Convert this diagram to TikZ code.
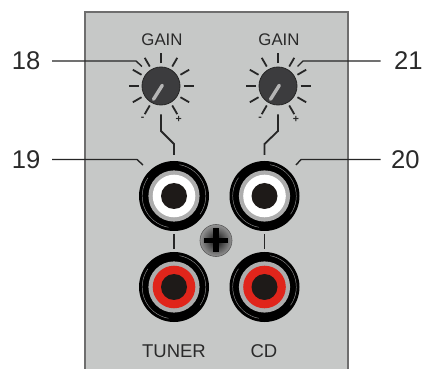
\documentclass[tikz,border=0pt]{standalone}
\usepackage{fontspec}
\setmainfont{Liberation Sans}
\usetikzlibrary{calc}
\definecolor{panel}{HTML}{C6C8C7}
\definecolor{edge}{HTML}{6E6E6E}
\definecolor{ink}{HTML}{262626}
\definecolor{txt}{HTML}{2A2A2A}
\definecolor{knobfill}{HTML}{3C3C3E}
\definecolor{ringgrey}{HTML}{ADADAD}
\definecolor{jackred}{HTML}{E0251B}
\definecolor{hole}{HTML}{1E1A18}
\tikzset{
  leader/.style={draw=ink,line width=1.4pt,line join=miter},
  stem/.style={draw=ink,line width=1.8pt,line join=miter},
  tick/.style={draw=ink,line width=1.8pt},
  pointer/.style={draw=ringgrey!90!white,line width=3.4pt,line cap=round},
  numlabel/.style={inner sep=0pt,text=txt,font=\fontsize{25.6}{26}\selectfont},
  caption/.style={inner sep=0pt,text=txt,font=\fontsize{18.5}{20}\selectfont},
  gainlabel/.style={inner sep=0pt,text=txt,font=\fontsize{16.8}{18}\selectfont},
  sign/.style={inner sep=0pt,text=txt,font=\bfseries\fontsize{10.5}{10}\selectfont},
  knob/.style={circle,inner sep=0pt,minimum size=38pt,fill=knobfill,draw=black!85,line width=.8pt},
  jack/.style={circle,inner sep=0pt,minimum size=70pt,fill=black},
  glint/.style={draw=black!45,line width=.45pt}
}
\newcommand{\jackrings}[2]{%
  \draw[glint] (#1)+(100:31.8) arc[start angle=100,end angle=215,radius=31.8];
  \draw[glint] (#1)+(-80:31.8) arc[start angle=-80,end angle=35,radius=31.8];
  \fill[ringgrey] (#1) circle (25.6pt);
  \fill[#2] (#1) circle (21.3pt);
  \fill[hole] (#1) circle (13pt);
}
\newcommand{\knobticks}[1]{%
  \foreach \a in {-60,-30,0,30,60,90,120,150,180,210,240}
    \draw[tick] ($(#1)+(\a:22.5 and -22.5)$) -- ($(#1)+(\a:32.5 and -32.5)$);
}
\begin{document}
\begin{tikzpicture}[x=1pt,y=-1pt]
\useasboundingbox (0,0) rectangle (424,369);
\fill[white] (0,0) rectangle (424,369);
% panel
\fill[panel] (85,12) rectangle (348,369);
\draw[edge,line width=1.6pt] (85,369) -- (85,12) -- (348,12) -- (348,369);
% knobs
\node[knob] (knobL) at (161,86) {};
\node[knob] (knobR) at (278,86) {};
\knobticks{knobL}
\knobticks{knobR}
\draw[pointer] (162.3,85.3) -- (153.5,99.3);
\draw[pointer] (279.3,85.3) -- (270.5,99.3);
% labels
\node[gainlabel] (gainL) at (162,40) {GAIN};
\node[gainlabel] (gainR) at (279,40) {GAIN};
\node[sign] (minusL) at (142.7,118.5) {-};
\node[sign] (plusL) at (178.7,119) {+};
\node[sign] (minusR) at (260,118.5) {-};
\node[sign] (plusR) at (296,119) {+};
% jacks
\node[jack] (jackTL) at (174,196) {};
\node[jack] (jackTR) at (264.5,196) {};
\node[jack] (jackBL) at (174,287) {};
\node[jack] (jackBR) at (264.5,287) {};
\jackrings{jackTL}{white}
\jackrings{jackTR}{white}
\jackrings{jackBL}{jackred}
\jackrings{jackBR}{jackred}
% screw
\shade[inner color=black!95,outer color=black!42] (216,240.5) circle (16);
\node[circle,inner sep=0pt,minimum size=32pt,draw=black!65,line width=.6pt] (screw) at (216,240.5) {};
\draw[black,line width=5.8pt] (204,240.5) -- (228,240.5) (216,228.5) -- (216,252.5);
% numbers
\node[numlabel,anchor=east] (n18) at (40.5,61) {18};
\node[numlabel,anchor=east] (n19) at (40.5,159.5) {19};
\node[numlabel,anchor=west] (n21) at (394,61) {21};
\node[numlabel,anchor=west] (n20) at (391,159.5) {20};
% captions
\node[caption] (tuner) at (174,351) {TUNER};
\node[caption] (cd) at (264,351) {CD};
% leaders
\coordinate (e18) at (142,66.5);
\coordinate (e19) at (143,165);
\coordinate (e21) at (297.5,66.5);
\coordinate (e20) at (296,165);
\draw[leader] ([xshift=11.5pt]n18.east) -- (136,61) -- (e18);
\draw[leader] ([xshift=11.5pt]n19.east) -- (137,159.5) -- (e19);
\draw[leader] ([xshift=-13.5pt]n21.west) -- (303,61) -- (e21);
\draw[leader] ([xshift=-10.5pt]n20.west) -- (301,159.5) -- (e20);
% stems
\coordinate (sL) at (161,114.5);
\coordinate (sR) at (278,114.5);
\coordinate (tL) at (174,155);
\coordinate (tR) at (264.5,155);
\draw[stem] (sL) -- (161,131) -- (174,144) -- (tL);
\draw[stem] (sR) -- (278,131) -- (264.5,144) -- (tR);
\draw[stem] ([yshift=-3pt]jackTL.south) -- ([yshift=3pt]jackBL.north);
\draw[stem] ([yshift=-3pt]jackTR.south) -- ([yshift=3pt]jackBR.north);
\end{tikzpicture}
\end{document}
